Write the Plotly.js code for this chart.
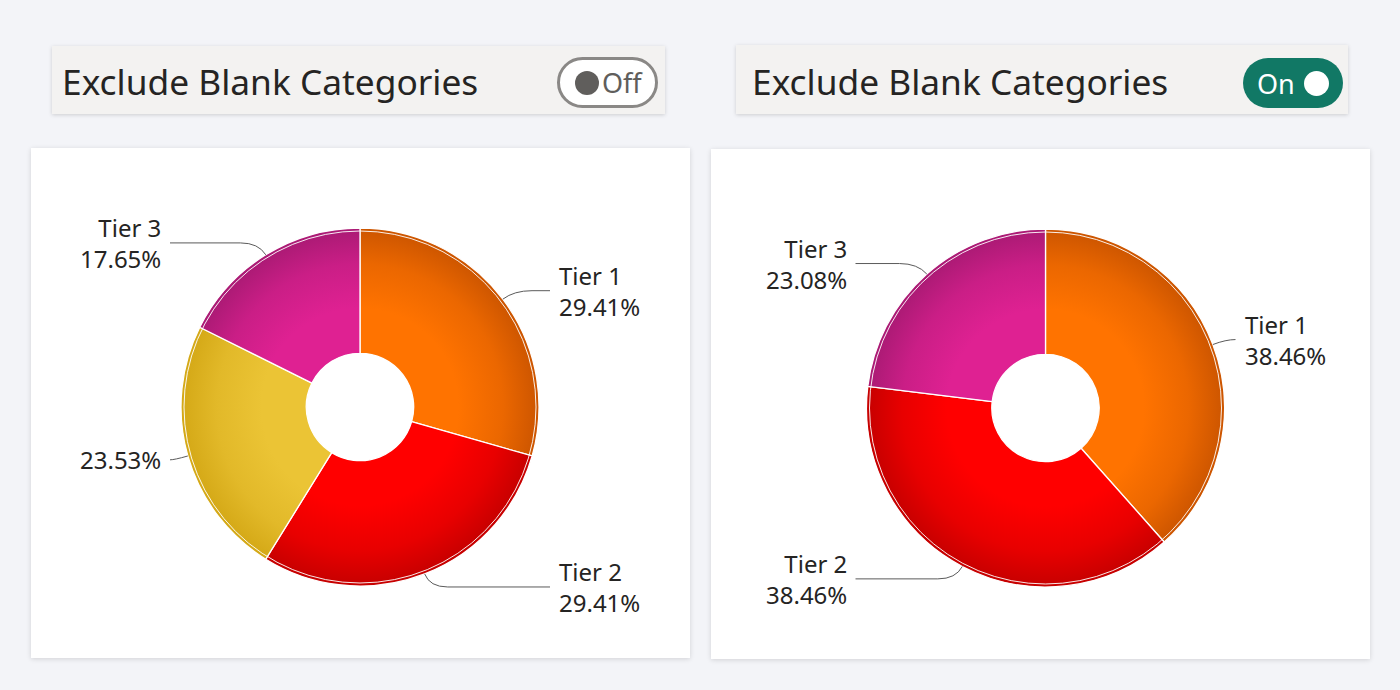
<!DOCTYPE html>
<html>
<head>
<meta charset="utf-8">
<script src="https://cdn.plot.ly/plotly-3.0.1.min.js"></script>
<style>
  html, body { margin: 0; padding: 0; }
  body { width: 1400px; height: 690px; background: #f3f4f8; position: relative; overflow: hidden;
         font-family: "Noto Sans", "Open Sans", sans-serif; }
  .panel { position: absolute; background: #f3f2f1; box-shadow: 0 1px 4px rgba(0,0,0,0.16); }
  .panel .title { position: absolute; left: 10px; top: 50%; transform: translateY(-47%); transform-origin: left center;
                  font-size: 35.3px; color: #252423; white-space: nowrap; letter-spacing: 0px; }
  .card { position: absolute; background: #ffffff; box-shadow: 0 1px 5px rgba(0,0,0,0.14); }
  .tog { position: absolute; box-sizing: border-box; border-radius: 26px; }
  .tog .knob { position: absolute; border-radius: 50%; }
  .tog .lbl { position: absolute; font-size: 27px; line-height: 1; white-space: nowrap; }
  #plot { position: absolute; left: 0; top: 0; width: 1400px; height: 690px; }
</style>
</head>
<body>
<div class="panel" style="left:52px; top:46px; width:613px; height:68px;">
  <div class="title">Exclude Blank Categories</div>
</div>
<div class="panel" style="left:736px; top:45px; width:612px; height:69px;">
  <div class="title" style="left:16px;">Exclude Blank Categories</div>
</div>
<div class="tog" style="left:557px; top:57px; width:101px; height:51px; border:3px solid #8a8886; background:#ffffff;">
  <div class="knob" style="left:15px; top:11px; width:24px; height:24px; background:#605e5c;"></div>
  <div class="lbl" style="left:42px; top:9px; color:#605e5c;">Off</div>
</div>
<div class="tog" style="left:1243px; top:58px; width:100px; height:50px; background:#117865;">
  <div class="lbl" style="left:14px; top:12px; color:#ffffff;">On</div>
  <div class="knob" style="left:61px; top:13px; width:25px; height:25px; background:#ffffff;"></div>
</div>
<div class="card" style="left:31px; top:148px; width:659px; height:510px;"></div>
<div class="card" style="left:711px; top:149px; width:659px; height:510px;"></div>
<div id="plot"></div>
<script>
// ---- data ----
const categoriesOff = ['Tier 1', 'Tier 2', '', 'Tier 3'];
const valuesOff = [5, 5, 4, 3];
const colorsOff = ['#ff7300', '#ff0000', '#ebc435', '#df2192'];
const edgeColorsOff = ['#cc5500', '#c60000', '#d4a816', '#aa1a74'];

const categoriesOn = ['Tier 1', 'Tier 2', 'Tier 3'];
const valuesOn = [5, 5, 3];
const colorsOn = ['#ff7300', '#ff0000', '#df2192'];
const edgeColorsOn = ['#cc5500', '#c60000', '#aa1a74'];

// ---- geometry (page pixels) ----
const W = 1400, H = 690;
const R = 179;
const pies = [
  { cats: categoriesOff, vals: valuesOff, cols: colorsOff, edges: edgeColorsOff, cx: 360, cy: 407 },
  { cats: categoriesOn, vals: valuesOn, cols: colorsOn, edges: edgeColorsOn, cx: 1045.5, cy: 408 }
];

const traces = [], shapes = [], annotations = [];
pies.forEach((p, k) => {
  traces.push({
    type: 'pie',
    labels: p.cats.map(c => c === '' ? '(Blank)' : c),
    values: p.vals,
    hole: 0.3,
    sort: false,
    direction: 'clockwise',
    rotation: 0,
    textinfo: 'none',
    hoverinfo: 'skip',
    showlegend: false,
    marker: { colors: p.cols, line: { color: '#ffffff', width: 1.3 } },
    domain: {
      x: [(p.cx - R) / W, (p.cx + R) / W],
      y: [(H - (p.cy + R)) / H, (H - (p.cy - R)) / H]
    }
  });
  shapes.push({ type: 'circle', xref: 'x', yref: 'y', x0: p.cx - (R - 3), x1: p.cx + (R - 3),
                y0: p.cy - (R - 3), y1: p.cy + (R - 3), line: { color: 'rgba(255,255,255,0.9)', width: 1 } });
  const total = p.vals.reduce((a, b) => a + b, 0);
  let cum = 0;
  p.vals.forEach((v, i) => {
    const mid = (cum + v / 2) / total * 2 * Math.PI;
    cum += v;
    const s = Math.sin(mid), c = Math.cos(mid);
    const side = s >= 0 ? 1 : -1;
    const ex = p.cx + R * s, ey = p.cy - R * c;
    const px = p.cx + 193 * s, py = p.cy - 193 * c;
    const endX = p.cx + side * 190;
    let mx = px + side * 18;
    if (side > 0) mx = Math.min(mx, endX); else mx = Math.max(mx, endX);
    shapes.push({ type: 'path', xref: 'x', yref: 'y',
      path: `M${ex},${ey} Q${px},${py} ${mx},${py} L${endX},${py}`,
      line: { color: '#5a5a5a', width: 1 } });
    const pct = (v / total * 100).toFixed(2) + '%';
    const txt = p.cats[i] === '' ? pct : p.cats[i] + '<br>' + pct;
    annotations.push({ xref: 'x', yref: 'y', x: p.cx + side * 197, y: py, text: txt, showarrow: false,
      xanchor: side > 0 ? 'left' : 'right', yanchor: 'middle', align: side > 0 ? 'left' : 'right',
      font: { family: 'Noto Sans, Open Sans, sans-serif', size: 24, color: '#252423' } });
  });
});

const layout = {
  width: W, height: H,
  margin: { l: 0, r: 0, t: 0, b: 0 },
  paper_bgcolor: 'rgba(0,0,0,0)', plot_bgcolor: 'rgba(0,0,0,0)',
  xaxis: { range: [0, W], visible: false, fixedrange: true },
  yaxis: { range: [H, 0], visible: false, fixedrange: true },
  shapes: shapes, annotations: annotations, hovermode: false, showlegend: false
};

function mix(a, b, t) {
  const x = parseInt(a.slice(1), 16), y = parseInt(b.slice(1), 16);
  const ch = sh => Math.round(((x >> sh) & 255) * (1 - t) + ((y >> sh) & 255) * t);
  return `rgb(${ch(16)},${ch(8)},${ch(0)})`;
}

Plotly.newPlot('plot', traces, layout, { displayModeBar: false, staticPlot: true }).then(gd => {
  const svg = gd.querySelector('svg.main-svg');
  const defs = svg.querySelector('defs');
  const NS = 'http://www.w3.org/2000/svg';
  gd.querySelectorAll('.pielayer g.trace').forEach((tEl, t) => {
    const cd0 = gd.calcdata[t][0];
    const p = pies[t];
    tEl.querySelectorAll('g.slice path.surface').forEach((path, i) => {
      const id = `grad_${t}_${i}`;
      const g = document.createElementNS(NS, 'radialGradient');
      g.setAttribute('id', id);
      g.setAttribute('gradientUnits', 'userSpaceOnUse');
      g.setAttribute('cx', cd0.cx); g.setAttribute('cy', cd0.cy); g.setAttribute('r', cd0.r);
      [[0, 0], [0.55, 0], [0.8, 0.4], [1, 1]].forEach(([o, t2]) => {
        const st = document.createElementNS(NS, 'stop');
        st.setAttribute('offset', o);
        st.setAttribute('stop-color', mix(p.cols[i], p.edges[i], t2));
        g.appendChild(st);
      });
      defs.appendChild(g);
      path.style.fill = `url(#${id})`;
    });
  });
});
</script>
</body>
</html>
